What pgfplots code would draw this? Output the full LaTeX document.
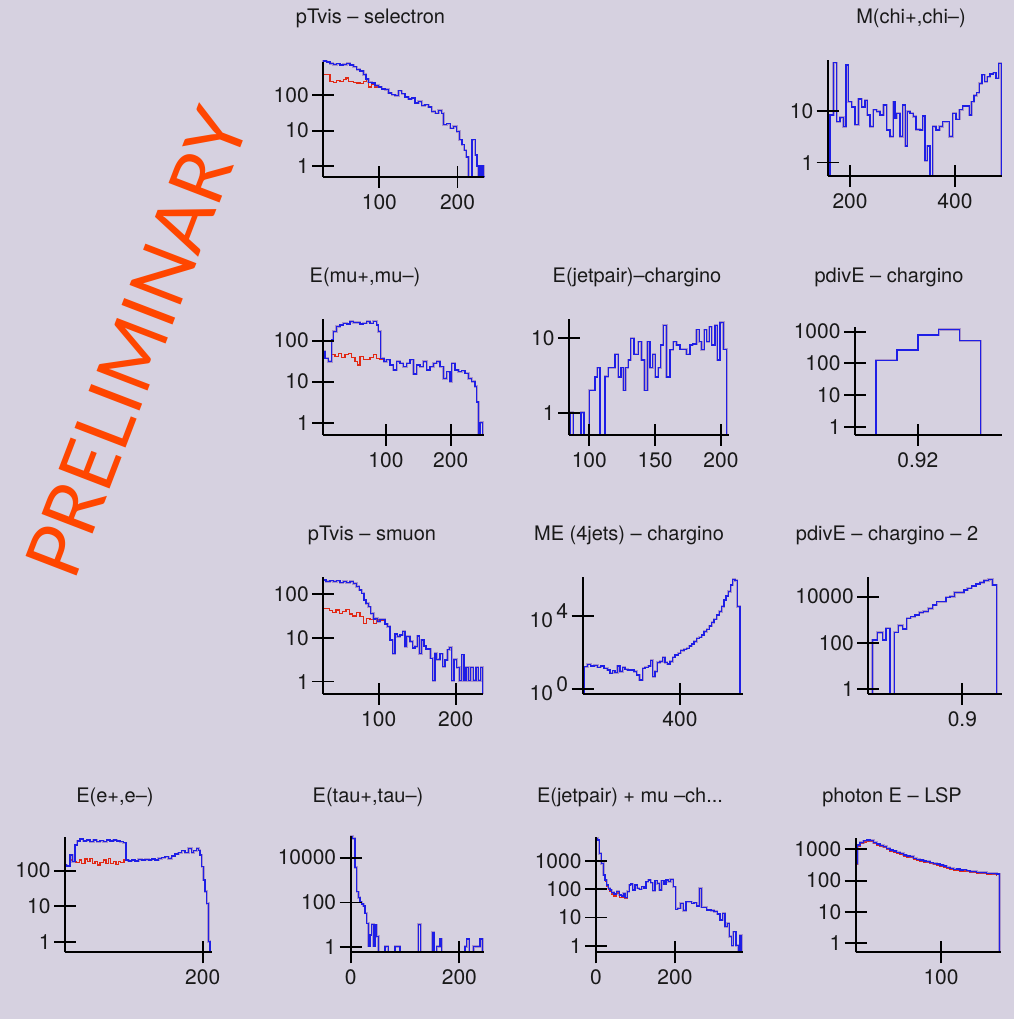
\documentclass[border=0pt]{standalone}
\usepackage{fontspec}
\setmainfont{TeX Gyre Heros}
\newfontfamily\prelimfont{Lato}
\usepackage{graphicx}
\usepackage{pgfplots}
\usepackage{pgfplotstable}
\pgfplotsset{compat=1.18}
\definecolor{bg}{RGB}{214,209,224}
\definecolor{hblue}{RGB}{30,30,230}
\definecolor{hred}{RGB}{225,40,20}
\definecolor{hpurp}{RGB}{120,80,170}
\definecolor{prelim}{RGB}{255,70,0}
\definecolor{txt}{RGB}{25,25,25}
\pgfplotsset{
  panel/.style={scale only axis, anchor=south west,
    axis x line=bottom, axis y line=left, axis line style={-, line width=1.8pt, black},
    tick align=center, major tick length=22pt,
    every tick/.style={black, line width=1.8pt},
    enlargelimits=false, clip=false, axis on top,
    yminorticks=false, xminorticks=false, log ticks with fixed point,
    tick label style={font=\fontsize{21}{21}\selectfont, text=txt,
      /pgf/number format/1000 sep={}, /pgf/number format/assume math mode=true},
    x tick label style={yshift=-3pt}},
  hund/.style={const plot, no marks, draw=hpurp, line width=2.3pt, opacity=0.45},
  hblu/.style={const plot, no marks, draw=hblue, line width=1.3pt},
  hred/.style={const plot, no marks, draw=hred, line width=1.3pt},
}
\newcommand{\ttl}[3]{\node[font=\fontsize{20}{20}\selectfont, text=txt] at (#1pt,#2pt) {#3};}

% ---------- panel 1: pTvis - selectron
\pgfplotstableread{
x y
28.2 0.5
28.2 927
32.5 868
36.8 795
41.0 742
45.3 777
49.6 713
53.8 742
58.1 795
62.4 713
66.7 640
71.0 540
75.2 482
79.5 388
82.9 291
85.9 234
90.2 224
94.4 188
98.7 172
103.0 151
107.3 145
111.5 116
115.8 104
120.1 98
124.4 135
128.6 111
132.9 90
137.2 79
141.5 84
145.7 61
150.0 67
154.3 51
158.5 54
162.8 47
167.1 35
171.4 31
175.6 37
179.9 31
182.1 14.6
186.3 15.6
190.6 11.7
194.9 13.1
199.1 9.5
202.6 5.5
205.6 4
208.5 2.8
211.1 1.8
214.1 0.5
218.4 5.5
222.6 2.05
224.8 1
226.9 0.5
228.2 1
229.9 0.5
231.2 1
233.3 0.5
233.9 0.5
}\tA
\pgfplotstableread{
x y
28.2 0.5
28.2 385
32.5 385
36.8 250
41.0 234
45.3 267
49.6 250
53.8 280
57.3 310
60.3 250
66.7 234
71.0 224
75.2 215
79.5 250
83.8 280
85.9 172
90.2 200
94.4 172
98.7 172
103.0 151
}\tAr
% ---------- panel 2: M(chi+,chi-)
\pgfplotstableread{
x y
157.5 0.55
161.9 8.4
168.3 86
174.6 6.2
181 7.5
187.3 5
192.4 78
196.8 15
203.2 12
209.5 5.4
215.9 17
222.2 12
228.6 16
233 8.4
238.1 5
244.4 10.5
250.8 9.7
257.1 8.4
263.5 13
269.8 4.3
276.2 3.2
282.5 15
285.7 7.2
288.9 9
295.2 3.2
300.3 13
305.4 2.1
309.2 9.7
314.3 9
320.6 7.8
325.7 4.4
332.1 4.3
338.4 8
342.9 1.1
347.3 2.1
352.4 0.55
357.5 5
363.8 4.3
370.2 5
376.5 6.2
382.9 6.2
389.2 3.2
395.6 9
401.9 6.9
408.3 10.5
414.6 12.5
421 12.5
427.3 8.4
431.7 15
436.2 20
441.3 22.6
446.3 34
451.4 50
456.5 37
461.6 46
466.7 52
473 55
478.1 43
483.2 84
488.3 0.55
}\tB
% ---------- panel 3: E(mu+,mu-)
\pgfplotstableread{
x y
3.1 0.5
3.1 54
5.7 37
10.8 31
16.0 104
18.6 166
23.7 219
28.9 240
34.0 265
39.2 255
44.3 290
49.5 275
54.6 275
59.8 255
64.9 265
70.1 290
75.3 265
80.4 296
85.6 240
88.1 166
91.8 37
96.9 31
101.0 34
106.2 25.5
111.3 19.2
116.5 31
121.6 28
126.8 23
132.0 28
137.1 34
142.3 15.4
147.4 25.5
152.6 23
157.7 31
162.9 19.2
168.0 23
173.2 28
178.4 31
183.5 23
188.7 12
193.8 17.5
199.0 10
201.5 28
206.7 19.2
211.9 17.5
217.0 18.5
222.2 16
227.3 12
232.5 10
237.6 7.6
240.2 3.2
242.8 0.5
245.4 1
249.5 0.5
251.5 0.5
}\tC
\pgfplotstableread{
x y
10.8 31
16.0 45
21.1 41
26.3 49
31.4 39
36.6 45
41.8 49
46.9 39
52.1 31
55.7 25.5
59.8 41
64.9 34
70.1 35
75.3 39
80.4 45
85.6 37
90.7 34
96.9 31
}\tCr
% ---------- panel 4: E(jetpair)-chargino
\pgfplotstableread{
x y
84.6 0.5
85.3 1
87.8 0.5
93.7 1
95.9 0.5
100 2
104.3 3
106.1 4
108.1 0.5
111.9 3.05
114.4 4
119.5 6.1
122 3
124.1 4
125.8 2
127.6 4
129.6 5.1
131.4 10
133.9 6.1
137.2 9
139.7 5.1
141.8 2
144.1 9
146.1 4
148.1 6.1
150.1 3
152.4 4
154.2 8.1
156.2 15
158.7 3
161.3 7
163.8 9
166.3 8.1
168.9 7.1
171.4 7.1
173.9 6.1
176.5 8.1
178.5 8.4
181.5 13
183.5 9
185.3 7
187.3 13
189.1 9
191.1 14.3
192.9 8.1
195.4 15
197.2 5.1
199.2 16.3
201.8 7.1
204.3 0.5
206.3 0.5
}\tD
% ---------- panel 5: pdivE - chargino
\pgfplotstableread{
x y
0.905 0.55
0.910 126
0.915 265
0.920 785
0.925 1180
0.930 520
0.935 0.55
0.940 0.55
}\tE
% ---------- panel 6: pTvis - smuon
\pgfplotstableread{
x y
28.1 0.52
28.1 209
31.6 191
36.8 201
41.1 191
45.5 201
49.8 181
54.1 191
58.4 181
62.8 191
67.1 174
71.4 147
74.9 123
77.9 104
81.0 73
83.5 61
86.6 51
89.6 36
93.1 26.4
95.2 28
98.3 23.4
101.7 26.4
105.2 26.4
108.2 20.7
111.3 18
114.7 8.9
118.2 4.3
121.2 12.2
124.2 10.6
127.7 11.6
131.2 13.8
134.2 6.3
136.4 10.6
140.7 8.2
144.2 5.8
147.2 6.3
150.2 11
152.8 4.4
155.8 8.9
158.9 6.5
161.5 5.5
164.5 5.5
167.5 3.4
170.1 1.05
173.2 4.4
175.3 3.2
179.7 4.3
183.1 2.2
186.1 3.1
189.2 5.3
191.8 6.1
194.8 1.05
197.8 3.2
201.3 2.1
204.8 1.05
207.8 4.1
210.8 1.05
213.4 2.1
216.5 1.05
219.5 2.1
222.9 1.05
226.4 2.1
229.4 1.05
232.5 2.1
235.1 0.52
}\tF
\pgfplotstableread{
x y
28.1 0.52
28.1 47
31.6 47
35.9 41.5
40.3 37.5
44.6 43
48.9 36
53.2 39.6
57.6 44.7
61.9 34.9
66.2 31.5
71.4 37.5
75.8 30.4
80.1 21.4
84.4 27.8
88.7 26.4
93.1 21.4
97.4 25.5
101.7 24.6
106.1 26.4
}\tFr
% ---------- panel 7: ME (4jets) - chargino
\pgfplotstableread{
x y
254 0.53
256 16.6
261 22.4
266 18.2
271 19
276 15.5
281 18.2
286 13.5
291 11
295 7.2
299 10
302.5 7.9
306 18.2
310 8.9
314 15.5
317.5 12
321 11
326 11
331 8.9
335 5.9
339 3.1
344 13.5
347.5 15.5
352.5 18.2
356 35.6
359 4.7
362.5 8.9
366 27.7
370 31.4
374 54.6
377.5 27.7
381 23.4
385 31.4
389 54.6
392.5 72.8
397.5 90
401 126
406 149
410 169
414 228
417.5 293
421 392
425 596
429 677
432.5 910
436 1390
440 1860
444 2830
447.5 4290
451 6540
455 11300
459 17300
462.5 32400
466 75400
469 125000
472.5 215000
476 500000
479 1020000
482.5 870000
486 32400
490 0.53
495 0.53
}\tG
% ---------- panel 8: pdivE - chargino - 2
\pgfplotstableread{
x y
0.8718 0.6
0.8731 133
0.8738 133
0.8745 275
0.8761 133
0.8771 425
0.8783 0.6
0.8796 285
0.8808 555
0.8821 400
0.8833 1150
0.8845 1350
0.8858 1600
0.8871 2040
0.8883 2240
0.8898 3100
0.8911 4350
0.8923 6000
0.8938 6000
0.8951 9350
0.8963 10000
0.8976 14900
0.8991 14900
0.9005 19400
0.9015 23000
0.9028 29000
0.9041 35500
0.9053 40500
0.9065 49500
0.9078 56000
0.9090 32000
0.9103 0.6
0.9118 0.6
}\tH
% ---------- panel 9: E(e+,e-)
\pgfplotstableread{
x y
0 0.5
0 145
2.4 135
7.3 275
11.1 179
14.5 530
17.9 685
21.8 780
26.6 685
31.5 730
36.3 655
41.2 730
46.0 655
50.8 700
55.7 655
60.5 730
65.4 685
70.2 730
75.1 685
79.9 655
84.7 615
88.6 200
92.0 187
96.9 200
101.7 187
106.5 208
111.4 200
116.2 208
121.1 200
125.9 212
130.8 200
135.6 223
140.4 233
145.3 247
150.1 223
155.0 258
159.8 294
164.6 320
169.5 366
174.3 320
179.2 425
184.0 320
186.4 366
191.3 425
193.7 380
196.1 275
198.5 130
201.0 55
203.4 26
205.8 12
208.2 1
210.7 0.5
213.0 0.5
}\tI
\pgfplotstableread{
x y
2.4 135
7.3 200
11.1 179
16.0 168
20.8 200
24.2 161
29.1 212
32.4 179
36.3 223
40.2 161
43.6 179
47.0 145
50.8 168
55.7 200
59.6 161
63.0 223
66.3 161
70.2 179
74.1 150
77.5 179
80.9 168
85.7 200
88.6 200
}\tIr
% ---------- panel 10: E(tau+,tau-)
\pgfplotstableread{
x y
0 0.6
0 87000
3.7 72000
8.0 3700
11.0 302
14.1 170
17.2 109
20.2 86
23.3 70
26.4 33
29.4 11.8
32.5 1.15
35.6 3.55
38.7 10.6
41.7 1.15
44.8 9.9
47.9 3
50.9 0.6
63.2 1.1
69.3 0.6
81.6 1.1
90.8 0.6
124.5 10.6
128.8 0.6
150.3 4.7
153.4 0.6
158.3 1.1
164.4 2.35
167.5 0.6
210.4 1.1
213.5 2.35
218.4 0.6
225.8 1.1
231.9 1.1
238.0 2.35
242.9 0.6
245.4 0.6
}\tJ
% ---------- panel 11: E(jetpair) + mu -ch...
\pgfplotstableread{
x y
0 0.58
0 6300
3.4 5500
8.4 1860
13.5 820
18.6 318
22.8 213
27.0 141
31.2 108
35.4 94
39.7 76
45.6 67
52.3 82
59.1 62
65.0 57
69.2 71
73.4 51
79.3 82
84.4 141
87.8 153
92.8 94
98.7 141
104.6 108
109.7 99
115.6 123
121.5 108
126.6 185
132.5 213
138.4 170
143.5 89
149.4 200
155.3 161
160.3 94
166.2 200
172.2 153
177.2 213
183.1 185
189.0 224
195.8 123
201.7 19.4
206.8 21
214.3 31.6
221.1 17.4
227.8 36
233.8 36
242.2 31.6
248.1 33
254.9 25.4
261.6 108
267.5 22.8
273.4 22.8
280.2 18.4
286.9 18.4
292.8 17.4
298.7 16
307.2 13.2
313.9 8.1
320.7 14
326.6 4.7
332.5 6.2
337.6 2.1
343.5 1
347.7 3.1
354.4 1
360.3 0.58
364.6 2.3
368.8 0.58
373.0 0.58
}\tK
\pgfplotstableread{
x y
22.8 195
27.0 128
31.2 98
35.4 84
39.7 68
45.6 58
52.3 74
59.1 52
65.0 50
69.2 64
73.4 46
79.3 82
}\tKr
% ---------- panel 12: photon E - LSP
\pgfplotstableread{
x y
0 0.52
0 355
2.3 1380
5.1 1630
9.0 1860
12.9 1990
16.8 1890
20.7 1660
24.6 1480
28.5 1310
32.4 1220
36.3 1070
40.2 950
44.1 890
48.0 800
52.0 745
55.9 660
59.8 615
63.7 585
67.6 515
71.5 480
75.4 455
79.3 425
83.2 405
87.1 375
91.0 355
94.9 340
98.8 316
102.7 295
106.6 267
110.5 247
114.5 230
118.4 235
122.3 220
126.2 222
130.1 208
134.0 194
137.9 200
141.8 184
145.7 180
149.6 182
153.5 171
157.4 172
161.3 170
165.2 163
168.4 0.52
169.9 0.52
}\tL
\pgfplotstableread{
x y
0 0.52
0 330
2.3 1250
5.1 1500
9.0 1720
12.9 1840
16.8 1740
20.7 1530
24.6 1360
28.5 1200
32.4 1120
36.3 980
40.2 870
44.1 815
48.0 735
52.0 685
55.9 605
59.8 565
63.7 535
67.6 470
71.5 440
75.4 418
79.3 390
83.2 372
87.1 345
91.0 326
94.9 312
98.8 290
102.7 271
106.6 245
110.5 227
114.5 211
118.4 215
122.3 202
126.2 204
130.1 191
134.0 178
137.9 184
141.8 169
145.7 165
149.6 167
153.5 157
157.4 158
161.3 156
165.2 150
}\tLr

\begin{document}
\begin{tikzpicture}
\path[use as bounding box] (0,0) rectangle (1014pt,1019pt);
\fill[bg] (0,0) rectangle (1014pt,1019pt);

\node[rotate=69, anchor=base west, inner sep=0pt, text=prelim] at (74pt,436pt)
  {\resizebox{493pt}{!}{\prelimfont\fontsize{80}{80}\selectfont PRELIMINARY}};

% titles
\ttl{370.5}{1001}{pTvis – selectron}
\ttl{911}{1001}{M(chi+,chi–)}
\ttl{365}{742}{E(mu+,mu–)}
\ttl{637}{742}{E(jetpair)–chargino}
\ttl{889}{742}{pdivE – chargino}
\ttl{372}{484}{pTvis – smuon}
\ttl{629}{484}{ME (4jets) – chargino}
\ttl{887}{484}{pdivE – chargino – 2}
\ttl{115}{222}{E(e+,e–)}
\ttl{368}{222}{E(tau+,tau–)}
\ttl{630}{222}{E(jetpair) + mu –ch...}
\ttl{892}{222}{photon E – LSP}

% 1
\begin{axis}[ymode=log, panel, at={(323.3pt,842.3pt)}, width=160.7pt, height=115pt,
  xmin=28.2, xmax=233.9, ymin=0.5, ymax=890, xtick={100,200}, ytick={1,10,100}]
\addplot[hred] table {\tAr};
\addplot[hund] table {\tA};
\addplot[hblu] table {\tA};
\end{axis}
% 2
\begin{axis}[ymode=log, panel, at={(827.7pt,843pt)}, width=174pt, height=116pt,
  xmin=157.5, xmax=489, ymin=0.55, ymax=97, xtick={200,400}, ytick={1,10}]
\addplot[hund] table {\tB};
\addplot[hblu] table {\tB};
\end{axis}
% 3
\begin{axis}[ymode=log, panel, at={(323.3pt,584pt)}, width=160.7pt, height=115.7pt,
  xmin=3.1, xmax=251.5, ymin=0.5, ymax=331, xtick={100,200}, ytick={1,10,100}]
\addplot[hred] table {\tCr};
\addplot[hund] table {\tC};
\addplot[hblu] table {\tC};
\end{axis}
% 4
\begin{axis}[ymode=log, panel, at={(569pt,584pt)}, width=160.3pt, height=115.7pt,
  xmin=84.6, xmax=206.3, ymin=0.5, ymax=18, xtick={100,150,200}, ytick={1,10}]
\addplot[hund] table {\tD};
\addplot[hblu] table {\tD};
\end{axis}
% 5
\begin{axis}[ymode=log, panel, at={(855pt,584pt)}, width=146.7pt, height=108.3pt,
  xmin=0.905, xmax=0.94, ymin=0.55, ymax=1440, xtick={0.92}, ytick={1,10,100,1000},
  xticklabels={0.92}]
\addplot[hund] table {\tE};
\addplot[hblu] table {\tE};
\end{axis}
% 6
\begin{axis}[ymode=log, panel, at={(323.3pt,325pt)}, width=159.4pt, height=116.7pt,
  xmin=28.1, xmax=235.1, ymin=0.52, ymax=240, xtick={100,200}, ytick={1,10,100}]
\addplot[hred] table {\tFr};
\addplot[hund] table {\tF};
\addplot[hblu] table {\tF};
\end{axis}
% 7
\begin{axis}[ymode=log, panel, at={(582.7pt,325pt)}, width=160.6pt, height=116.7pt,
  xmin=254, xmax=495, ymin=0.53, ymax=1300000, xtick={400}, ytick={1,10000},
  yticklabels={10\,\raisebox{0.45em}{0}, 10\,\raisebox{0.45em}{4}}]
\addplot[hund] table {\tG};
\addplot[hblu] table {\tG};
\end{axis}
% 8
\begin{axis}[ymode=log, panel, at={(868.3pt,325pt)}, width=133.4pt, height=116.7pt,
  xmin=0.8718, xmax=0.9118, ymin=0.6, ymax=69000, xtick={0.9}, ytick={1,100,10000},
  xticklabels={0.9}]
\addplot[hund] table {\tH};
\addplot[hblu] table {\tH};
\end{axis}
% 9
\begin{axis}[ymode=log, panel, at={(65pt,66.7pt)}, width=146.7pt, height=115.6pt,
  xmin=0, xmax=213, ymin=0.5, ymax=910, xtick={200}, ytick={1,10,100}]
\addplot[hred] table {\tIr};
\addplot[hund] table {\tI};
\addplot[hblu] table {\tI};
\end{axis}
% 10
\begin{axis}[ymode=log, panel, at={(350.7pt,66.7pt)}, width=133.3pt, height=116.3pt,
  xmin=0, xmax=245.4, ymin=0.6, ymax=93000, xtick={0,200}, ytick={1,100,10000}]
\addplot[hund] table {\tJ};
\addplot[hblu] table {\tJ};
\end{axis}
% 11
\begin{axis}[ymode=log, panel, at={(596pt,66.7pt)}, width=147.3pt, height=115.6pt,
  xmin=0, xmax=373, ymin=0.58, ymax=7250, xtick={0,200}, ytick={1,10,100,1000}]
\addplot[hred] table {\tKr};
\addplot[hund] table {\tK};
\addplot[hblu] table {\tK};
\end{axis}
% 12
\begin{axis}[ymode=log, panel, at={(855.7pt,66.7pt)}, width=145pt, height=114pt,
  xmin=0, xmax=169.9, ymin=0.52, ymax=2240, xtick={100}, ytick={1,10,100,1000}]
\addplot[hred] table {\tLr};
\addplot[hund] table {\tL};
\addplot[hblu] table {\tL};
\end{axis}
\end{tikzpicture}
\end{document}
